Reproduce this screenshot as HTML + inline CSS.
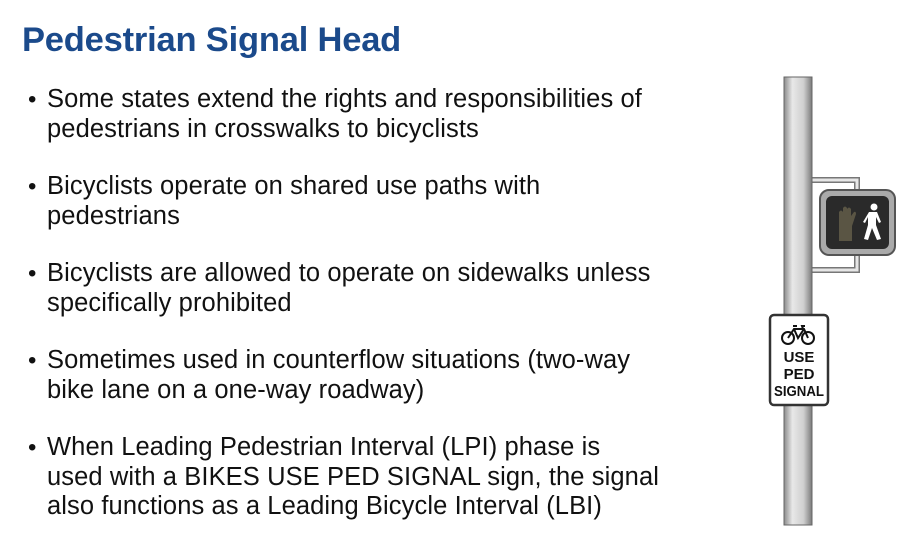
<!DOCTYPE html>
<html><head><meta charset="utf-8"><style>
body{margin:0;width:917px;height:538px;background:#fff;overflow:hidden;position:relative;font-family:"Liberation Sans",Arial,sans-serif}
h1{position:absolute;left:22px;top:21px;margin:0;font-size:34.5px;font-weight:bold;color:#1b4a8b;letter-spacing:-0.2px}
ul{position:absolute;left:28px;top:85px;margin:0;padding:0;list-style:none;width:720px}
li{position:relative;padding-left:19px;font-size:25.5px;letter-spacing:0.1px;line-height:29.5px;color:#111;margin-bottom:28px}
li::before{content:"•";position:absolute;left:0;top:0;font-size:24px}
</style></head><body>
<h1>Pedestrian Signal Head</h1>
<ul>
<li>Some states extend the rights and responsibilities of<br>pedestrians in crosswalks to bicyclists</li>
<li>Bicyclists operate on shared use paths with<br>pedestrians</li>
<li>Bicyclists are allowed to operate on sidewalks unless<br>specifically prohibited</li>
<li>Sometimes used in counterflow situations (two-way<br>bike lane on a one-way roadway)</li>
<li>When Leading Pedestrian Interval (LPI) phase is<br>used with a BIKES USE PED SIGNAL sign, the signal<br>also functions as a Leading Bicycle Interval (LBI)</li>
</ul>
<svg style="position:absolute;left:0;top:0" width="917" height="538">
<defs><linearGradient id="pg" x1="0" x2="1"><stop offset="0" stop-color="#8a8a8a"/><stop offset="0.3" stop-color="#e8e8e8"/><stop offset="0.7" stop-color="#cfcfcf"/><stop offset="1" stop-color="#7a7a7a"/></linearGradient></defs>
<g fill="none" stroke="#777" stroke-width="6">
<path d="M812 180 H857 V195"/><path d="M812 270 H857 V252"/></g>
<g fill="none" stroke="#e6e6e6" stroke-width="3">
<path d="M812 180 H857 V195"/><path d="M812 270 H857 V252"/></g>
<rect x="784" y="77" width="28" height="448" fill="url(#pg)" stroke="#666" stroke-width="1"/>
<rect x="820" y="190" width="75" height="65" rx="9" fill="#aaa" stroke="#555" stroke-width="2"/>
<rect x="826" y="196" width="63" height="53" rx="6" fill="#2a2a2a"/>
<path d="M839 241 V212 q2-3 4 0 V208 q2-3 4 0 V209 q2-3 4 0 V216 l3-4 q2-1 2 2 l-4 12 V241 Z" fill="#5a5544"/>
<g fill="#fff">
<circle cx="874" cy="207" r="3.5"/>
<path d="M869 212 h8 l4 10 -2 1 -3-6 0 8 5 14 -4 1 -5-12 -4 12 -4-1 4-14 0-8 -3 6 -2-1 z"/></g>
<rect x="770" y="315" width="58" height="90" rx="4" fill="#fff" stroke="#333" stroke-width="2.5"/>
<g fill="none" stroke="#111" stroke-width="2">
<circle cx="788" cy="338" r="6"/><circle cx="808" cy="338" r="6"/>
<path d="M788 338 l6-9 h10 l4 9 M794 329 l4 9 l6 -9 M793 326 h4 M803 329 l-1-3 h3"/></g>
<text x="799" y="362" text-anchor="middle" font-family="Liberation Sans Narrow,Liberation Sans,sans-serif" font-weight="bold" font-size="15" fill="#111">USE</text>
<text x="799" y="379" text-anchor="middle" font-family="Liberation Sans Narrow,Liberation Sans,sans-serif" font-weight="bold" font-size="15" fill="#111">PED</text>
<text x="799" y="396" text-anchor="middle" font-family="Liberation Sans Narrow,Liberation Sans,sans-serif" font-weight="bold" font-size="15" fill="#111" textLength="50" lengthAdjust="spacingAndGlyphs">SIGNAL</text>
</svg>
</body></html>
